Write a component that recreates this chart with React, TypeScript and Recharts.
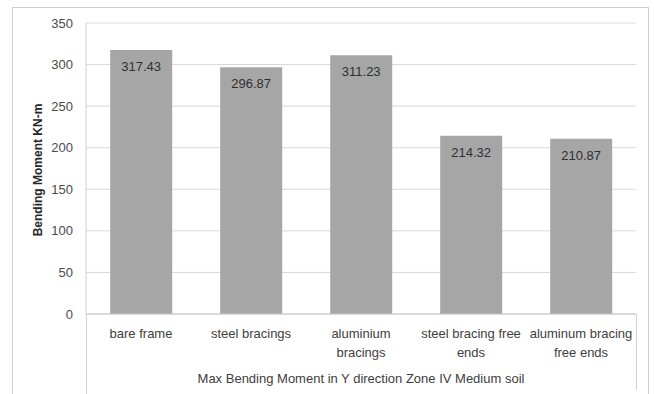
import { Bar, BarChart, CartesianGrid, LabelList, XAxis, YAxis } from "recharts";

// Max bending moment per bracing scheme (KN-m), line breaks as they wrap under the axis
const categories = [
  "bare frame",
  "steel bracings",
  "aluminium\nbracings",
  "steel bracing free\nends",
  "aluminum bracing\nfree ends",
];
const moments = [317.43, 296.87, 311.23, 214.32, 210.87];
const yTicks = [0, 50, 100, 150, 200, 250, 300, 350];

const xTitle = "Max Bending Moment in Y direction Zone IV Medium soil";
const yTitle = "Bending Moment KN-m";

const data = categories.map((name, i) => ({ name, value: moments[i] }));

const FONT = "'Liberation Sans', Arial, sans-serif";
const W = 654;
const H = 394;

function CategoryTick(props: any) {
  const { x, y, payload } = props;
  const lines = String(payload.value).split("\n");
  return (
    <text x={x} y={y} textAnchor="middle" fill="#404040" fontSize={13} fontFamily={FONT}>
      {lines.map((ln, i) => (
        <tspan key={i} x={x} dy={i === 0 ? 16 : 19}>
          {ln}
        </tspan>
      ))}
    </text>
  );
}

export default function App() {
  const line = "#d0d0d0";
  return (
    <div style={{ position: "relative", width: W, height: H, background: "#fff", overflow: "hidden" }}>
      <style>{"body{margin:0}"}</style>
      {/* chart frame */}
      <div
        style={{
          position: "absolute",
          left: 12,
          top: 7,
          width: 637,
          height: 400,
          border: `1px solid ${line}`,
          boxSizing: "border-box",
        }}
      />
      {/* box around the category labels */}
      <div style={{ position: "absolute", left: 86, top: 314, width: 1, height: 80, background: line }} />
      <div style={{ position: "absolute", left: 636, top: 314, width: 1, height: 76, background: line }} />
      <BarChart
        width={W}
        height={H}
        data={data}
        margin={{ top: 23, right: 18, bottom: 0, left: 0 }}
        barCategoryGap="22%"
        style={{ position: "absolute", left: 0, top: 0 }}
      >
        <CartesianGrid vertical={false} stroke="#d9d9d9" />
        <XAxis
          dataKey="name"
          interval={0}
          tick={<CategoryTick />}
          tickLine={false}
          axisLine={{ stroke: "#c8c8c8" }}
          height={80}
        />
        <YAxis
          domain={[0, 350]}
          ticks={yTicks}
          width={86}
          tickLine={false}
          tickSize={0}
          tickMargin={13}
          axisLine={{ stroke: "#d0d0d0" }}
          tick={{ fill: "#4a4a4a", fontSize: 13, fontFamily: FONT }}
        />
        <Bar dataKey="value" fill="#a6a6a6" isAnimationActive={false}>
          <LabelList
            dataKey="value"
            position="insideTop"
            offset={12}
            fill="#303030"
            fontSize={13}
            fontFamily={FONT}
            formatter={(v: any) => Number(v).toFixed(2)}
          />
        </Bar>
      </BarChart>
      <div
        style={{
          position: "absolute",
          left: 86,
          width: 550,
          top: 371,
          textAlign: "center",
          fontFamily: FONT,
          fontSize: 13,
          color: "#404040",
        }}
      >
        {xTitle}
      </div>
      <div
        style={{
          position: "absolute",
          left: 38,
          top: 170,
          transform: "translate(-50%, -50%) rotate(-90deg)",
          whiteSpace: "nowrap",
          fontFamily: FONT,
          fontSize: 12,
          fontWeight: 700,
          color: "#262626",
        }}
      >
        {yTitle}
      </div>
    </div>
  );
}
